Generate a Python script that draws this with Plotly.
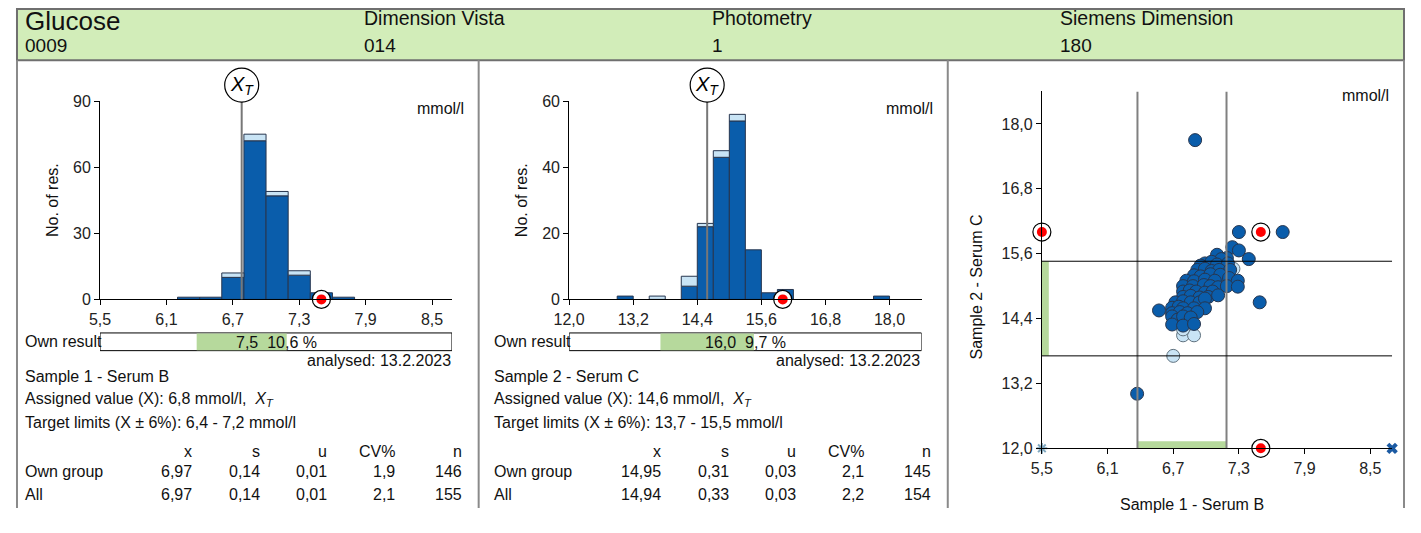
import plotly.graph_objects as go

# The page body keeps the browser's default 8px margin, so the figure is
# sized to the window minus that margin and positions are given in window
# pixels, shifted by the margin.
WIN_W, WIN_H = 1421, 533
BODY_MARGIN = 8
W, H = WIN_W - 2 * BODY_MARGIN, WIN_H - 2 * BODY_MARGIN
FONT = "Liberation Sans, Arial, sans-serif"

# ---------------- header ----------------
analyte, analyte_code = "Glucose", "0009"
instrument, instrument_code = "Dimension Vista", "014"
method, method_code = "Photometry", "1"
reagent, reagent_code = "Siemens Dimension", "180"
analysed = "13.2.2023"
unit = "mmol/l"
limit_pct = 6

# ---------------- sample 1 (Serum B) ----------------
s1_name = "Sample 1 - Serum B"
s1_bin_lo = [6.2, 6.4, 6.6, 6.8, 7.0, 7.2, 7.4, 7.6]
s1_bin_w = 0.2
s1_count_own = [1, 1, 10, 72, 47, 11, 3, 1]
s1_count_all = [1, 1, 12, 75, 49, 13, 3, 1]
s1_assigned = 6.78
s1_result = 7.5
s1_xticks = [5.5, 6.1, 6.7, 7.3, 7.9, 8.5]
s1_yticks = [0, 30, 60, 90]
s1_stats_own = [6.97, 0.14, 0.01, 1.9, 146]
s1_stats_all = [6.97, 0.14, 0.01, 2.1, 155]

# ---------------- sample 2 (Serum C) ----------------
s2_name = "Sample 2 - Serum C"
s2_bin_lo = [12.9, 13.5, 14.1, 14.4, 14.7, 15.0, 15.3, 15.6, 15.9, 17.7]
s2_bin_w = 0.3
s2_count_own = [1, 0, 4, 22, 43, 54, 15, 2, 3, 1]
s2_count_all = [1, 1, 7, 23, 45, 56, 15, 2, 3, 1]
s2_assigned = 14.585
s2_result = 16.0
s2_xticks = [12.0, 13.2, 14.4, 15.6, 16.8, 18.0]
s2_yticks = [0, 20, 40, 60]
s2_stats_own = [14.95, 0.31, 0.03, 2.1, 145]
s2_stats_all = [14.94, 0.33, 0.03, 2.2, 154]

stat_cols = ["x", "s", "u", "CV%", "n"]
stat_dec = [2, 2, 2, 1, 0]

# ---------------- Youden plot ----------------
own_s1 = [6.90, 7.30, 7.70, 7.24, 7.30, 7.39, 7.49, 6.57, 6.37,
          7.10, 7.19, 7.14,
          6.99, 7.05, 7.10, 7.20, 6.95,
          6.92, 6.99, 7.05, 7.12, 7.22,
          6.89, 6.95, 7.04, 7.13, 7.21,
          6.82, 6.89, 6.99, 7.08, 7.29,
          6.79, 6.88, 6.98, 7.04, 7.11, 7.19, 7.29,
          6.79, 6.85, 6.91, 6.99, 7.06,
          6.79, 6.86, 6.94, 7.02, 7.11,
          6.72, 6.79, 6.86, 6.94, 6.99,
          6.69, 6.75, 6.79, 6.89, 6.99,
          6.69, 6.76, 6.83, 6.92,
          6.69, 6.74, 6.79, 6.86,
          6.69, 6.79, 6.89]
own_s2 = [17.70, 16.00, 16.00, 15.72, 15.66, 15.50, 14.70, 14.55, 13.01,
          15.58, 15.52, 15.50,
          15.42, 15.45, 15.40, 15.42, 15.38,
          15.30, 15.32, 15.28, 15.30, 15.30,
          15.20, 15.18, 15.22, 15.21, 15.15,
          15.10, 15.09, 15.12, 15.10, 15.10,
          15.00, 15.00, 15.02, 15.00, 14.98, 15.00, 14.99,
          14.90, 14.92, 14.90, 14.88, 14.90,
          14.80, 14.82, 14.79, 14.80, 14.83,
          14.70, 14.72, 14.70, 14.70, 14.77,
          14.60, 14.62, 14.59, 14.59, 14.59,
          14.50, 14.52, 14.50, 14.52,
          14.44, 14.38, 14.44, 14.42,
          14.29, 14.27, 14.30]
other_s1 = [6.70, 6.79, 6.89, 6.79, 7.25, 7.06]
other_s2 = [13.71, 14.09, 14.09, 14.20, 15.32, 14.88]
# results outside the plotted window, pinned to the frame
offscale_own = (8.7, 12.0)
offscale_other = (5.5, 12.0)
yx_range = [5.5, 8.7]
yy_range = [12.0, 18.6]
yx_ticks = [5.5, 6.1, 6.7, 7.3, 7.9, 8.5]
yy_ticks = [12.0, 13.2, 14.4, 15.6, 16.8, 18.0]

# ---------------- styling ----------------
DARK = "#0a5dab"
LIGHT = "#c9e4f5"
EDGE = "#27364f"
GREEN_BAND = "#b6d99c"
HEADER_BG = "#d2edb9"
FRAME = "#8a8a8a"


def px(x):
    return (x - BODY_MARGIN) / W


def py(y):
    return 1 - (y - BODY_MARGIN) / H


def fmt(v, d):
    return f"{v:.{d}f}".replace(".", ",")


fig = go.Figure()
shapes = []
annotations = []


def text(x, y, s, size=16, xanchor="left", yanchor="middle", **kw):
    annotations.append(dict(x=px(x), y=py(y), xref="paper", yref="paper", text=s,
                            showarrow=False, xanchor=xanchor, yanchor=yanchor,
                            font=dict(family=FONT, size=size, color="#111"), **kw))


axis_common = dict(showline=True, linecolor="black", linewidth=1, ticks="outside",
                   ticklen=5, tickcolor="black", tickwidth=1, showgrid=False,
                   zeroline=False, fixedrange=True,
                   tickfont=dict(family=FONT, size=16, color="#222"))

# outer frame, header band and panel separators
left_edge, right_edge = BODY_MARGIN + 1, BODY_MARGIN + W - 1
top_edge, bottom_edge = BODY_MARGIN + 1, BODY_MARGIN + H
shapes.append(dict(type="rect", xref="paper", yref="paper", x0=px(left_edge),
                   x1=px(right_edge), y0=py(62), y1=py(top_edge), fillcolor=HEADER_BG,
                   line=dict(color="#6f6f6f", width=2), layer="below"))
for sx in (left_edge, 476, 950.5, right_edge):
    shapes.append(dict(type="line", xref="paper", yref="paper", x0=px(sx), x1=px(sx),
                       y0=py(62), y1=py(bottom_edge), line=dict(color=FRAME, width=2)))

text(15, 21.5, analyte, size=26)
text(15, 47, analyte_code, size=19)
text(358, 18, instrument, size=19.5)
text(358, 46.5, instrument_code, size=19)
text(710, 18, method, size=19.5)
text(710, 46.5, method_code, size=19)
text(1062, 18, reagent, size=19.5)
text(1062, 46.5, reagent_code, size=19)


def histogram_panel(n, off, dom_x, xrng, yticks, xticks, lo, w, cnt_own, cnt_all,
                    assigned, result, name, stats_own, stats_all):
    xa, ya = f"x{n}" if n > 1 else "x", f"y{n}" if n > 1 else "y"
    xkey, ykey = f"xaxis{n}" if n > 1 else "xaxis", f"yaxis{n}" if n > 1 else "yaxis"
    centers = [a + w / 2 for a in lo]
    fig.add_trace(go.Bar(x=centers, y=[c if c > 0 else None for c in cnt_own], base=0,
                         width=w, marker=dict(color=DARK, line=dict(color=EDGE, width=1)),
                         xaxis=xa, yaxis=ya, hoverinfo="skip"))
    extra = [a - o for a, o in zip(cnt_all, cnt_own)]
    fig.add_trace(go.Bar(x=centers, y=[e if e > 0 else None for e in extra], base=cnt_own,
                         width=w, marker=dict(color=LIGHT, line=dict(color=EDGE, width=1)),
                         xaxis=xa, yaxis=ya, hoverinfo="skip"))
    fig.add_trace(go.Scatter(x=[result], y=[0], mode="markers", xaxis=xa, yaxis=ya,
                             marker=dict(size=18, color="white",
                                         line=dict(color="black", width=1.2)),
                             cliponaxis=False, hoverinfo="skip"))
    fig.add_trace(go.Scatter(x=[result], y=[0], mode="markers", xaxis=xa, yaxis=ya,
                             marker=dict(size=10, color="#ff0000"),
                             cliponaxis=False, hoverinfo="skip"))

    ytop = yticks[-1]
    fig.layout[xkey] = dict(axis_common, domain=dom_x, range=xrng, anchor=ya,
                            tickvals=xticks, ticktext=[fmt(v, 1) for v in xticks])
    fig.layout[ykey] = dict(axis_common, domain=[py(309.3), py(104.3)], range=[0, ytop],
                            anchor=xa, tickvals=yticks, ticktext=[str(v) for v in yticks])

    # assigned value marker
    shapes.append(dict(type="line", xref=xa, yref=ya, x0=assigned, x1=assigned,
                       y0=0, y1=ytop, line=dict(color="#777", width=2), layer="above"))
    shapes.append(dict(type="circle", xref=xa, yref="paper", xsizemode="pixel",
                       ysizemode="pixel", xanchor=assigned, yanchor=py(87.7),
                       x0=-17, x1=17, y0=-17, y1=17, fillcolor="white",
                       line=dict(color="black", width=1.2)))
    annotations.append(dict(x=assigned, y=py(87.7), xref=xa, yref="paper",
                            text="<i>X<sub>T</sub></i>", showarrow=False,
                            xanchor="center", yanchor="middle",
                            font=dict(family=FONT, size=20, color="black")))

    lim_lo = assigned * (1 - limit_pct / 100)
    lim_hi = assigned * (1 + limit_pct / 100)
    dev = (result - assigned) / assigned * 100

    # own-result bar
    shapes.append(dict(type="rect", xref=xa, yref="paper", x0=xrng[0], x1=xrng[1],
                       y0=py(362.3), y1=py(344), fillcolor="white",
                       line=dict(color="black", width=1)))
    shapes.append(dict(type="rect", xref=xa, yref="paper", x0=lim_lo, x1=lim_hi,
                       y0=py(361.8), y1=py(344.5), fillcolor=GREEN_BAND, line=dict(width=0)))
    annotations.append(dict(x=0.5, y=py(354), xref=f"{xa} domain", yref="paper",
                            text=f"{fmt(result, 1)}\u00a0\u00a0{fmt(dev, 1)}\u00a0%",
                            showarrow=False, xanchor="center", yanchor="middle",
                            font=dict(family=FONT, size=16, color="#111")))

    text(45 + off, 207, "No. of res.", xanchor="center", textangle=-90)
    text(463 + off, 112, unit, xanchor="right")
    text(15 + off, 353, "Own result")
    text(450 + off, 373, f"analysed: {analysed}", xanchor="right")
    text(15 + off, 389, name)
    text(15 + off, 413, f"Assigned value (X): {fmt(assigned, 1)} {unit},\u00a0\u00a0"
                        f"<i>X<sub>T</sub></i>")
    text(15 + off, 437, f"Target limits (X \u00b1 {limit_pct}%): {fmt(lim_lo, 1)} - "
                        f"{fmt(lim_hi, 1)} {unit}")
    col_x = [188, 257, 325, 393, 461]
    for cx, h in zip(col_x, stat_cols):
        text(cx + off, 467, h, xanchor="right")
    for ry, label, vals in ((487, "Own group", stats_own), (511, "All", stats_all)):
        text(15 + off, ry, label)
        for cx, v, d in zip(col_x, vals, stat_dec):
            text(cx + off, ry, fmt(v, d) if d else str(int(v)), xanchor="right")


histogram_panel(1, 0, [px(93), px(449)], [5.5, 8.68], s1_yticks, s1_xticks,
                s1_bin_lo, s1_bin_w, s1_count_own, s1_count_all, s1_assigned,
                s1_result, s1_name, s1_stats_own, s1_stats_all)
histogram_panel(2, 474.5, [px(567.5), px(924)], [12.0, 18.6], s2_yticks, s2_xticks,
                s2_bin_lo, s2_bin_w, s2_count_own, s2_count_all, s2_assigned,
                s2_result, s2_name, s2_stats_own, s2_stats_all)

# ---------------- Youden plot ----------------
lim1 = [s1_assigned * (1 - limit_pct / 100), s1_assigned * (1 + limit_pct / 100)]
lim2 = [s2_assigned * (1 - limit_pct / 100), s2_assigned * (1 + limit_pct / 100)]

fig.layout["xaxis3"] = dict(axis_common, domain=[px(1045.7), px(1400)], range=yx_range,
                            anchor="y3", tickvals=yx_ticks,
                            ticktext=[fmt(v, 1) for v in yx_ticks])
fig.layout["yaxis3"] = dict(axis_common, domain=[py(463.3), py(94.3)], range=yy_range,
                            anchor="x3", tickvals=yy_ticks,
                            ticktext=[fmt(v, 1) for v in yy_ticks])

shapes.append(dict(type="rect", xref="x3", yref="paper", x0=lim1[0], x1=lim1[1],
                   y0=py(463.3), y1=py(456), fillcolor=GREEN_BAND, line=dict(width=0),
                   layer="below"))
shapes.append(dict(type="rect", xref="paper", yref="y3", x0=px(1045.7), x1=px(1052.7),
                   y0=lim2[0], y1=lim2[1], fillcolor=GREEN_BAND, line=dict(width=0),
                   layer="below"))

fig.add_trace(go.Scatter(x=other_s1, y=other_s2, mode="markers", xaxis="x3", yaxis="y3",
                         marker=dict(size=13, color=LIGHT, line=dict(color="#5f717e", width=1)),
                         hoverinfo="skip", cliponaxis=False))
fig.add_trace(go.Scatter(x=own_s1, y=own_s2, mode="markers", xaxis="x3", yaxis="y3",
                         marker=dict(size=13, color=DARK, line=dict(color=EDGE, width=1)),
                         hoverinfo="skip", cliponaxis=False))
fig.add_trace(go.Scatter(x=[offscale_other[0]], y=[offscale_other[1]], mode="markers",
                         xaxis="x3", yaxis="y3",
                         marker=dict(size=9, symbol="asterisk-open", color="#7fa7bf",
                                     line=dict(color="#7fa7bf", width=2)),
                         hoverinfo="skip", cliponaxis=False))
fig.add_trace(go.Scatter(x=[offscale_own[0]], y=[offscale_own[1]], mode="markers",
                         xaxis="x3", yaxis="y3",
                         marker=dict(size=10, symbol="x", color="#1b5aa3",
                                     line=dict(width=0)),
                         hoverinfo="skip", cliponaxis=False))

for lx in lim1:
    shapes.append(dict(type="line", xref="x3", yref="y3", x0=lx, x1=lx,
                       y0=yy_range[0], y1=yy_range[1], line=dict(color="#808080", width=2),
                       layer="above"))
for ly in lim2:
    shapes.append(dict(type="line", xref="x3", yref="y3", x0=yx_range[0], x1=yx_range[1],
                       y0=ly, y1=ly, line=dict(color="black", width=1), layer="above"))

res_x = [yx_range[0], s1_result, s1_result]
res_y = [s2_result, s2_result, yy_range[0]]
fig.add_trace(go.Scatter(x=res_x, y=res_y, mode="markers", xaxis="x3", yaxis="y3",
                         marker=dict(size=18, color="white",
                                     line=dict(color="black", width=1.2)),
                         hoverinfo="skip", cliponaxis=False))
fig.add_trace(go.Scatter(x=res_x, y=res_y, mode="markers", xaxis="x3", yaxis="y3",
                         marker=dict(size=10, color="#ff0000"),
                         hoverinfo="skip", cliponaxis=False))

text(1399, 98, unit, xanchor="right")
text(980, 296, s2_name, xanchor="center", textangle=-90)
text(1198, 521, s1_name, xanchor="center")

fig.update_layout(width=W, height=H, autosize=False,
                  margin=dict(l=0, r=0, t=0, b=0, pad=0),
                  paper_bgcolor="white", plot_bgcolor="white",
                  barmode="overlay", showlegend=False, hovermode=False,
                  shapes=shapes, annotations=annotations,
                  font=dict(family=FONT, size=16, color="#111"))

fig.write_html("out.html", config={"displayModeBar": False})
